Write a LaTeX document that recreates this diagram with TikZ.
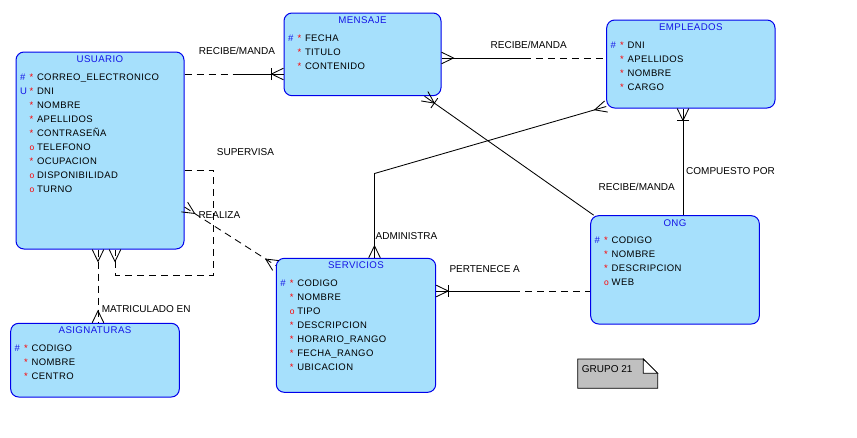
\documentclass[tikz,border=0pt]{standalone}
\usepackage{fontspec}
\setmainfont{Liberation Sans}
\newfontfamily\attrfont{Liberation Sans}[LetterSpace=4]
\usetikzlibrary{calc}

\definecolor{entfill}{RGB}{166,224,252}
\definecolor{entline}{RGB}{0,0,235}
\definecolor{keyblue}{RGB}{20,20,230}
\definecolor{notefill}{RGB}{192,192,192}

% attribute markers
\newcommand\pkey{\textcolor{keyblue}{\#}}
\newcommand\ukey{\textcolor{keyblue}{U}}
\newcommand\mand{\textcolor{red}{*}}
\newcommand\optl{\textcolor{red}{\fontsize{8.5}{8}\selectfont o}}

\tikzset{
  entity/.style={draw=entline, fill=entfill, rounded corners=8pt, line width=1pt, inner sep=0pt},
  enttitle/.style={text=keyblue, font=\attrfont\fontsize{9.7}{10}\selectfont, anchor=base, inner sep=0pt},
  attr/.style={font=\attrfont\fontsize{9.5}{10}\selectfont, anchor=base west, inner sep=0pt},
  attrkey/.style={font=\attrfont\fontsize{9.5}{10}\selectfont, anchor=base west, inner sep=0pt},
  rel/.style={font=\fontsize{10}{11}\selectfont, anchor=base west, inner sep=0pt},
  conn/.style={line width=0.85pt, black},
  opt/.style={conn, dash pattern=on 7pt off 5pt},
}

% rows of attributes: #1 entity node, #2 list of key/type/name
\newcommand\attrs[2]{%
  \foreach [count=\n] \k/\t/\s in {#2} {
    \coordinate (#1-p\n) at ($(#1.north west)+(21.3,14*\n+14.7)$);
    \node[attrkey] (#1-k\n) at ($(#1-p\n)+(-17,0)$) {\k};
    \node[attrkey] (#1-t\n) at ($(#1-p\n)+(-7.5,0)$) {\t};
    \node[attr] (#1-a\n) at (#1-p\n) {\s};
  }%
}
% crow's foot at end #1 of a line heading to #2
\newcommand\crowfoot[2]{%
  \draw[conn] ($(#1)!5.8pt!90:(#2)$) -- ($(#1)!12pt!(#2)$) -- ($(#1)!5.8pt!-90:(#2)$);}
% bar across the line at the crow's foot apex
\newcommand\crowbar[2]{%
  \draw[conn] ($($(#1)!12pt!(#2)$)!6pt!90:(#2)$) -- ($($(#1)!12pt!(#2)$)!6pt!-90:(#2)$);}
% relation line: optional half (dashed) and mandatory half (solid)
\newcommand\halfline[4]{%
  \draw[#1] (#3) -- ($(#3)!0.5!(#4)$);
  \draw[#2] ($(#3)!0.5!(#4)$) -- (#4);}

\begin{document}
\begin{tikzpicture}[x=1pt, y=-1pt]
\useasboundingbox (0,0) rectangle (857,437);

% ---------- entities ----------
\node[entity, minimum width=168pt, minimum height=197pt] (usuario) at (100,150.5) {};
\node[entity, minimum width=157pt, minimum height=82.7pt] (mensaje) at (362.5,54.35) {};
\node[entity, minimum width=168.3pt, minimum height=88pt] (empleados) at (690.85,64) {};
\node[entity, minimum width=168.6pt, minimum height=73.7pt] (asignaturas) at (95,360.15) {};
\node[entity, minimum width=159.4pt, minimum height=134pt] (servicios) at (356,325.3) {};
\node[entity, minimum width=168.6pt, minimum height=108.3pt] (ong) at (675,269.85) {};

\foreach \e/\t in {usuario/USUARIO, mensaje/MENSAJE, empleados/EMPLEADOS,
                   asignaturas/ASIGNATURAS, servicios/SERVICIOS, ong/ONG}
  \node[enttitle] (\e-title) at ($(\e.north)+(0,10.8)$) {\t};

\attrs{usuario}{\pkey/\mand/CORREO\_ELECTRONICO, \ukey/\mand/DNI, /\mand/NOMBRE,
  /\mand/APELLIDOS, /\mand/CONTRASEÑA, /\optl/TELEFONO, /\mand/OCUPACION,
  /\optl/DISPONIBILIDAD, /\optl/TURNO}
\attrs{mensaje}{\pkey/\mand/FECHA, /\mand/TITULO, /\mand/CONTENIDO}
\attrs{empleados}{\pkey/\mand/DNI, /\mand/APELLIDOS, /\mand/NOMBRE, /\mand/CARGO}
\attrs{asignaturas}{\pkey/\mand/CODIGO, /\mand/NOMBRE, /\mand/CENTRO}
\attrs{servicios}{\pkey/\mand/CODIGO, /\mand/NOMBRE, /\optl/TIPO, /\mand/DESCRIPCION,
  /\mand/HORARIO\_RANGO, /\mand/FECHA\_RANGO, /\mand/UBICACION}
\attrs{ong}{\pkey/\mand/CODIGO, /\mand/NOMBRE, /\mand/DESCRIPCION, /\optl/WEB}

% ---------- relation end points ----------
\coordinate (r1b) at ($(mensaje.north west)+(0,61.5)$);
\coordinate (r1a) at (usuario.east |- r1b);
\coordinate (r2a) at ($(mensaje.north east)+(0,45.5)$);
\coordinate (r2b) at (empleados.west |- r2a);
\coordinate (r3a) at ($(mensaje.south west)+(141,0)$);
\coordinate (r3b) at ($(ong.north west)+(3.5,0)$);
\coordinate (r4a) at ($(empleados.south west)+(76.8,0)$);
\coordinate (r4b) at (r4a |- ong.north);
\coordinate (r5a) at ($(servicios.north west)+(98.7,0)$);
\coordinate (r5k) at ($(r5a)+(0,-84.3)$);
\coordinate (r5b) at ($(empleados.south west)+(0,-2)$);
\coordinate (r6a) at ($(servicios.north east)+(0,33.2)$);
\coordinate (r6b) at (ong.west |- r6a);
\coordinate (r7a) at ($(usuario.north east)+(0,155.5)$);
\coordinate (r7b) at ($(servicios.north west)+(0,7.7)$);
\coordinate (s1) at ($(usuario.north east)+(0,118.5)$);
\coordinate (s2) at ($(s1)+(29,0)$);
\coordinate (s3) at ($(s2)+(0,105)$);
\coordinate (s5) at ($(usuario.south west)+(99.5,0)$);
\coordinate (s4) at (s5 |- s3);
\coordinate (m1) at ($(usuario.south west)+(82.5,0)$);
\coordinate (m2) at (m1 |- asignaturas.north);

% ---------- relations ----------
% USUARIO - MENSAJE
\halfline{opt}{conn}{r1a}{r1b}
\crowfoot{r1b}{r1a}\crowbar{r1b}{r1a}
% MENSAJE - EMPLEADOS
\halfline{conn}{opt}{r2a}{r2b}
\crowfoot{r2a}{r2b}
% MENSAJE - ONG
\draw[conn] (r3a) -- (r3b);
\crowfoot{r3a}{r3b}\crowbar{r3a}{r3b}
% EMPLEADOS - ONG
\draw[conn] (r4a) -- (r4b);
\crowfoot{r4a}{r4b}\crowbar{r4a}{r4b}
% SERVICIOS - EMPLEADOS
\draw[conn] (r5a) -- (r5k) -- (r5b);
\crowfoot{r5a}{r5k}\crowfoot{r5b}{r5k}
% SERVICIOS - ONG
\halfline{conn}{opt}{r6a}{r6b}
\crowfoot{r6a}{r6b}\crowbar{r6a}{r6b}
% USUARIO - SERVICIOS
\draw[opt] (r7a) -- (r7b);
\crowfoot{r7a}{r7b}\crowfoot{r7b}{r7a}
% USUARIO supervises USUARIO
\draw[opt] (s1) -- (s2) -- (s3) -- (s4) -- (s5);
\crowfoot{s5}{s4}
% USUARIO - ASIGNATURAS
\draw[opt] (m1) -- (m2);
\crowfoot{m1}{m2}\crowfoot{m2}{m1}

% ---------- relation names ----------
\node[rel, anchor=base] (l1) at (237,54.8) {RECIBE/MANDA};
\node[rel, anchor=base] (l2) at (528.7,48.5) {RECIBE/MANDA};
\node[rel, anchor=base] (l3) at (636.8,190.2) {RECIBE/MANDA};
\node[rel] (l4) at (686,174.2) {COMPUESTO POR};
\node[rel] (l5) at (375.5,239.2) {ADMINISTRA};
\node[rel] (l6) at (449.3,272.5) {PERTENECE A};
\node[rel] (l7) at (198.3,218.5) {REALIZA};
\node[rel] (l8) at (216.7,155.2) {SUPERVISA};
\node[rel] (l9) at (101.7,312.8) {MATRICULADO EN};

% ---------- note ----------
\draw[line width=0.8pt, fill=notefill] (577.7,359) -- (643.3,359) -- (657.7,373.3)
  -- (657.7,388.3) -- (577.7,388.3) -- cycle;
\draw[line width=0.8pt, fill=white] (643.3,359) -- (643.3,373.3) -- (657.7,373.3) -- cycle;
\node[rel] (grupo) at (581.7,372.8) {GRUPO 21};
\end{tikzpicture}
\end{document}
